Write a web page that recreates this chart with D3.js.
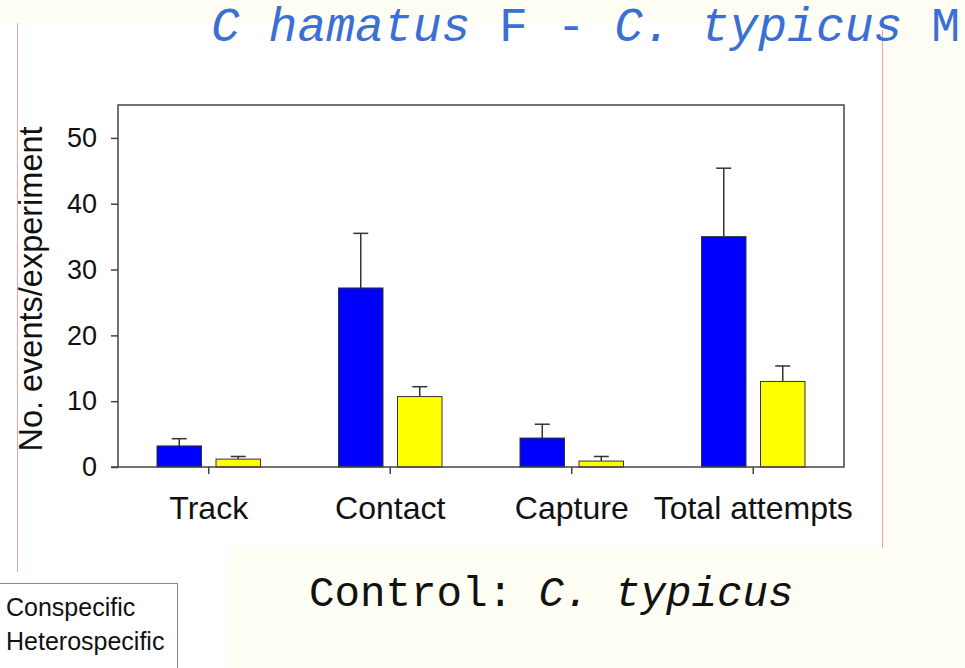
<!DOCTYPE html>
<html>
<head>
<meta charset="utf-8">
<script src="https://cdn.jsdelivr.net/npm/d3@7"></script>
<style>
  html, body { margin: 0; padding: 0; background: #fffef4; }
  svg { display: block; }
</style>
</head>
<body>
<div id="chart"></div>
<script>
// Data
const categories = ["Track", "Contact", "Capture", "Total attempts"];
const series = ["Conspecific", "Heterospecific"];
const conspecific = [3.2, 27.2, 4.4, 35.0];
const conspecificErr = [1.1, 8.3, 2.1, 10.4];
const heterospecific = [1.2, 10.7, 0.9, 13.0];
const heterospecificErr = [0.4, 1.5, 0.7, 2.35];
const yTicks = [0, 10, 20, 30, 40, 50];

const colors = { Conspecific: "#0000ff", Heterospecific: "#ffff00" };

const W = 965, H = 668;
const plot = { left: 118, right: 844, top: 105, bottom: 467 };

const svg = d3.select("#chart")
    .append("svg")
    .attr("width", W)
    .attr("height", H);

// Slide background pieces
svg.append("rect").attr("x", 0).attr("y", 0).attr("width", W).attr("height", H).attr("fill", "#fffef4");
svg.append("rect").attr("x", 0).attr("y", 23).attr("width", 882).attr("height", 525).attr("fill", "#ffffff");
svg.append("rect").attr("x", 0).attr("y", 548).attr("width", 227).attr("height", 120).attr("fill", "#ffffff");
svg.append("line").attr("x1", 17.5).attr("x2", 17.5).attr("y1", 23).attr("y2", 572)
    .attr("stroke", "#f4a3a3").attr("stroke-width", 1);
svg.append("line").attr("x1", 882.5).attr("x2", 882.5).attr("y1", 30).attr("y2", 548)
    .attr("stroke", "#f4a3a3").attr("stroke-width", 1);

// Title
const title = svg.append("text")
    .attr("x", 211)
    .attr("y", 41)
    .attr("fill", "#3a6fd3")
    .style("font-family", "'Liberation Mono', 'Courier New', monospace")
    .style("font-size", "48px");
title.append("tspan").style("font-style", "italic").text("C hamatus");
title.append("tspan").text(" F - ");
title.append("tspan").style("font-style", "italic").text("C. typicus");
title.append("tspan").text(" M");

// Scales
const x0 = d3.scaleBand()
    .domain(categories)
    .range([plot.left, plot.right])
    .padding(0);

const x1 = d3.scaleBand()
    .domain(series)
    .range([0, x0.bandwidth()])
    .paddingInner(0.246)
    .paddingOuter(0.661);

const y = d3.scaleLinear()
    .domain([0, 55])
    .range([plot.bottom, plot.top]);

// Y axis
const yAxis = svg.append("g")
    .attr("transform", `translate(${plot.left},0)`)
    .call(d3.axisLeft(y).tickValues(yTicks).tickSize(7).tickPadding(14));
yAxis.select(".domain").remove();
yAxis.selectAll("line").attr("stroke", "#444").attr("stroke-width", 1.5);
yAxis.selectAll("text")
    .attr("fill", "#111")
    .style("font-family", "'Liberation Sans', Arial, sans-serif")
    .style("font-size", "27px");

// X axis
const xAxis = svg.append("g")
    .attr("transform", `translate(0,${plot.bottom})`)
    .call(d3.axisBottom(x0).tickSize(7).tickPadding(22));
xAxis.select(".domain").remove();
xAxis.selectAll("line").attr("stroke", "#444").attr("stroke-width", 1.5);
xAxis.selectAll("text")
    .attr("fill", "#111")
    .style("font-family", "'Liberation Sans', Arial, sans-serif")
    .style("font-size", "32px");

// Bars
const rows = categories.map((c, i) => ({
    category: c,
    values: [
        { key: "Conspecific", value: conspecific[i], err: conspecificErr[i] },
        { key: "Heterospecific", value: heterospecific[i], err: heterospecificErr[i] }
    ]
}));

const groups = svg.append("g")
    .selectAll("g")
    .data(rows)
    .join("g")
    .attr("transform", d => `translate(${x0(d.category)},0)`);

// Error bars (upper only), drawn before bars
groups.selectAll("g.err")
    .data(d => d.values)
    .join("g")
    .attr("class", "err")
    .each(function(d) {
        const g = d3.select(this);
        const cx = x1(d.key) + x1.bandwidth() / 2;
        g.append("line")
            .attr("x1", cx).attr("x2", cx)
            .attr("y1", y(d.value)).attr("y2", y(d.value + d.err))
            .attr("stroke", "#333").attr("stroke-width", 1.5);
        g.append("line")
            .attr("x1", cx - 7.5).attr("x2", cx + 7.5)
            .attr("y1", y(d.value + d.err)).attr("y2", y(d.value + d.err))
            .attr("stroke", "#333").attr("stroke-width", 1.5);
    });

groups.selectAll("rect")
    .data(d => d.values)
    .join("rect")
    .attr("x", d => x1(d.key))
    .attr("y", d => y(d.value))
    .attr("width", x1.bandwidth())
    .attr("height", d => y(0) - y(d.value))
    .attr("fill", d => colors[d.key])
    .attr("stroke", "#333")
    .attr("stroke-width", 1);

// Frame
svg.append("path")
    .attr("d", `M${plot.left},${plot.bottom}V${plot.top}H${plot.right}V${plot.bottom}H${plot.left - 7}`)
    .attr("fill", "none")
    .attr("stroke", "#444")
    .attr("stroke-width", 1.5);

// Y label
svg.append("text")
    .attr("transform", `translate(42,${(plot.top + plot.bottom) / 2 + 3}) rotate(-90)`)
    .attr("text-anchor", "middle")
    .attr("fill", "#111")
    .style("font-family", "'Liberation Sans', Arial, sans-serif")
    .style("font-size", "32.5px")
    .text("No. events/experiment");

// Control caption
const caption = svg.append("text")
    .attr("x", 309)
    .attr("y", 606)
    .attr("fill", "#111")
    .style("font-family", "'Liberation Mono', 'Courier New', monospace")
    .style("font-size", "42.5px");
caption.append("tspan").text("Control: ");
caption.append("tspan").style("font-style", "italic").text("C. typicus");

// Legend (cropped at the left edge in the original)
const legend = svg.append("g");
legend.append("rect")
    .attr("x", -2).attr("y", 583.5)
    .attr("width", 179.5).attr("height", 100)
    .attr("fill", "#ffffff")
    .attr("stroke", "#888")
    .attr("stroke-width", 1);
legend.selectAll("text")
    .data(series)
    .join("text")
    .attr("x", 6)
    .attr("y", (d, i) => 616 + i * 34)
    .attr("fill", "#111")
    .style("font-family", "'Liberation Sans', Arial, sans-serif")
    .style("font-size", "25px")
    .text(d => d);
</script>
</body>
</html>
